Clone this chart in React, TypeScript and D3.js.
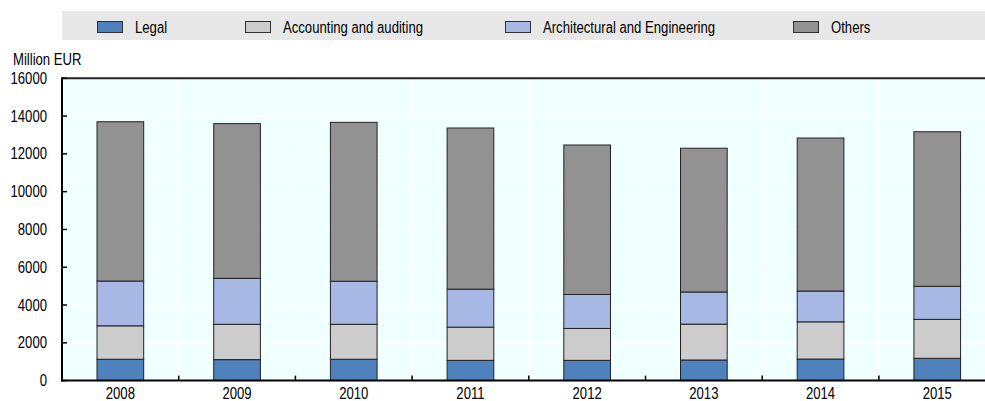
import React from "react";
import * as d3 from "d3";

const years = ["2008", "2009", "2010", "2011", "2012", "2013", "2014", "2015"];
const seriesNames = ["Legal", "Accounting and auditing", "Architectural and Engineering", "Others"];
const legal = [1130, 1110, 1130, 1070, 1070, 1090, 1140, 1180];
const accounting = [1770, 1870, 1850, 1760, 1690, 1900, 1970, 2060];
const architectural = [2370, 2430, 2280, 2010, 1800, 1700, 1630, 1750];
const others = [8430, 8190, 8410, 8530, 7910, 7610, 8100, 8180];
const yTicks = [0, 2000, 4000, 6000, 8000, 10000, 12000, 14000, 16000];
const yLabel = "Million EUR";

const colors = ["#4f81bd", "#cccccc", "#a7b8e4", "#929292"];
const legendX = [97, 245, 505, 793];

const W = 1000;
const H = 401;
const left = 62;
const right = 995.6;
const top = 78.3;
const bottom = 380.6;
const FONT = "'Liberation Sans', Arial, sans-serif";
const SX = 0.82;

export default function App() {
  const rows = years.map((y, i) => ({
    year: y,
    s0: legal[i],
    s1: accounting[i],
    s2: architectural[i],
    s3: others[i],
  }));
  const keys = ["s0", "s1", "s2", "s3"];
  const stacked = d3.stack<any>().keys(keys)(rows);

  const x = d3.scaleBand<string>().domain(years).range([left, right]).padding(0);
  const y = d3.scaleLinear().domain([0, 16000]).range([bottom, top]);
  const bw = x.bandwidth() * 0.4;

  const txt = (s: string, tx: number, ty: number, anchor: string, key?: any) => (
    <text
      key={key}
      transform={`translate(${tx},${ty}) scale(${SX},1)`}
      textAnchor={anchor as any}
      fontFamily={FONT}
      fontSize={16}
      fill="#000"
    >
      {s}
    </text>
  );

  return (
    <div style={{ position: "absolute", left: 0, top: 0, width: 985, height: 401, overflow: "hidden", background: "#fff" }}>
      <svg width={W} height={H} style={{ display: "block" }}>
        {/* legend band */}
        <rect x={left} y={11} width={W - left} height={29} fill="#e8e8e8" />
        {seriesNames.map((n, i) => (
          <g key={n}>
            <rect x={legendX[i] + 0.5} y={21.5} width={25} height={11} fill={colors[i]} stroke="#333" strokeWidth={1} />
            {txt(n, legendX[i] + 38, 33, "start")}
          </g>
        ))}

        {/* plot background */}
        <rect x={left} y={top} width={right - left} height={bottom - top} fill="#f0ffff" />
        {yTicks.slice(1, -1).map((t) => (
          <line key={t} x1={left} x2={right} y1={y(t)} y2={y(t)} stroke="#ffffff" strokeWidth={1.2} />
        ))}
        {years.slice(1).map((yr) => (
          <line key={yr} x1={x(yr)!} x2={x(yr)!} y1={top} y2={bottom} stroke="#ffffff" strokeWidth={1.2} />
        ))}

        {/* bars */}
        {stacked.map((layer, li) => (
          <g key={li}>
            {layer.map((d, i) => {
              const cx = x(years[i])! + x.bandwidth() / 2;
              return (
                <rect
                  key={i}
                  x={cx - bw / 2}
                  y={y(d[1])}
                  width={bw}
                  height={y(d[0]) - y(d[1])}
                  fill={colors[li]}
                  stroke="#222"
                  strokeWidth={1}
                />
              );
            })}
          </g>
        ))}

        {/* top border */}
        <line x1={left} x2={right} y1={top} y2={top} stroke="#222" strokeWidth={2} />
        {/* y axis */}
        <line x1={left} x2={left} y1={top - 1} y2={bottom + 1} stroke="#000" strokeWidth={2} />
        {yTicks.map((t) => (
          <g key={t}>
            <line x1={left} x2={left + 5} y1={y(t)} y2={y(t)} stroke="#000" strokeWidth={1.5} />
            {txt(String(t), 47, y(t) + 5.5, "end")}
          </g>
        ))}
        {/* x axis */}
        <line x1={left - 1} x2={right} y1={bottom} y2={bottom} stroke="#000" strokeWidth={2} />
        {years.slice(1).map((yr) => (
          <line key={yr} x1={x(yr)!} x2={x(yr)!} y1={bottom} y2={bottom - 5} stroke="#000" strokeWidth={1.5} />
        ))}
        {years.map((yr) => txt(yr, x(yr)! + x.bandwidth() / 2, 399, "middle", yr))}

        {txt(yLabel, 13, 65, "start")}
      </svg>
    </div>
  );
}
